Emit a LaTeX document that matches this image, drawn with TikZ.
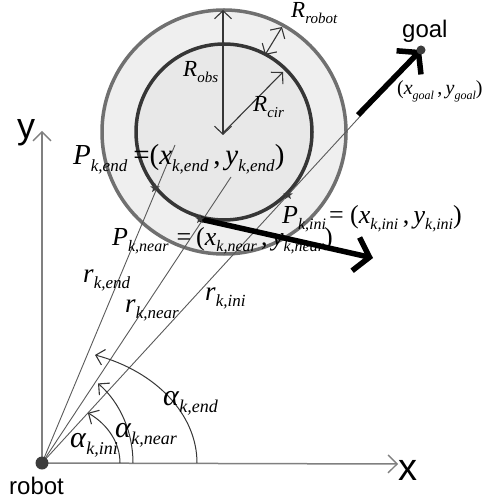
\documentclass[tikz,border=0pt]{standalone}
\usepackage{fontspec}
\setmainfont{Liberation Serif}
\newfontfamily\sansf{Liberation Sans}
\usetikzlibrary{arrows.meta,shapes.geometric}
\definecolor{outerfill}{HTML}{EFEFEF}
\definecolor{innerfill}{HTML}{E8E8E8}
\definecolor{outerline}{HTML}{707070}
\definecolor{innerline}{HTML}{363636}
\definecolor{thingray}{HTML}{5A5A5A}
\definecolor{axisgray}{HTML}{808080}
\definecolor{darkdot}{HTML}{3C3C3C}
\newcommand{\sy}[3][16]{\textit{#2}\raisebox{-0.24em}{\fontsize{#1}{#1}\selectfont\textit{#3}}}
\tikzset{
  rtip/.tip={Straight Barb[length=8pt,width=17pt,line width=1.1pt]},
  thinline/.style={draw=thingray, line width=0.9pt},
  axisline/.style={draw=axisgray, line width=1.5pt, -{Straight Barb[length=9pt,width=18pt,line width=1.4pt]}},
  radarrow/.style={draw=innerline, line width=1.1pt},
  anglearc/.style={draw=innerline, line width=1pt, -{Straight Barb[length=8pt,width=16pt,line width=1.1pt]}},
  thickarrow/.style={draw=black, line width=5.5pt, -{Straight Barb[length=14pt,width=34pt]}},
  starmark/.style={star, star points=5, star point ratio=2.4, minimum size=10pt, inner sep=0pt, fill=darkdot},
  mathlbl/.style={anchor=base west, inner sep=0pt, font=\fontsize{26}{26}\selectfont},
  sanslbl/.style={anchor=base west, inner sep=0pt, font=\sansf\fontsize{24}{24}\selectfont},
}
\begin{document}
\begin{tikzpicture}[x=1pt,y=-1pt]
\useasboundingbox (0,0) rectangle (499,502);
% key points
\coordinate (robot) at (42,463);
\coordinate (C) at (224,132);
\coordinate (goal) at (421,50);
\coordinate (Pend) at (155,188);
\coordinate (Pnear) at (200,219);
\coordinate (Pini) at (288,195);
\coordinate (endtop) at (175,145);
\coordinate (neartop) at (231,177);
\coordinate (gstart) at (358,115);
\coordinate (tanend) at (373,258);
\coordinate (xend) at (398,464);
\coordinate (yend) at (42,131);
\coordinate (obstop) at (223,10);
\coordinate (obsbot) at (223,135);
\coordinate (cirend) at (283,72);
\coordinate (robA) at (265,55);
\coordinate (robB) at (282,27);
% obstacle circles
\draw[draw=outerline, fill=outerfill, line width=3.5pt] (C) circle[radius=122];
\draw[draw=innerline, fill=innerfill, line width=3.5pt] (C) circle[radius=88];
% radii
\draw[radarrow, rtip-rtip] (obsbot) -- (obstop);
\draw[radarrow, -rtip] (C) -- (cirend);
\draw[radarrow, rtip-rtip] (robA) -- (robB);
% axes
\draw[axisline] (robot) -- (xend);
\draw[axisline] (robot) -- (yend);
% rays
\draw[thinline] (robot) -- (endtop);
\draw[thinline] (robot) -- (neartop);
\draw[thinline] (robot) -- (goal);
% angle arcs
\draw[anglearc] (197,463) arc[start angle=0, end angle=-70, x radius=155, y radius=115];
\draw[anglearc] (133,463) arc[start angle=0, end angle=-52, x radius=91, y radius=101];
\draw[anglearc] (120,463) arc[start angle=0, end angle=-54, x radius=78, y radius=62];
% thick arrows
\draw[thickarrow] (gstart) -- (goal);
\draw[thickarrow] (Pnear) -- (tanend);
% points
\node[starmark] (sEnd) at (Pend) {};
\node[starmark] (sNear) at (Pnear) {};
\node[starmark] (sIni) at (Pini) {};
\fill[darkdot] (robot) circle[radius=6.5];
\fill[darkdot] (goal) circle[radius=4.5];
% labels
\node[sanslbl, font=\sansf\fontsize{36}{36}\selectfont] (ylbl) at (17,139) {y};
\node[sanslbl, font=\sansf\fontsize{38}{38}\selectfont] (xlbl) at (398,480) {x};
\node[sanslbl] (robotlbl) at (9,494) {robot};
\node[sanslbl] (goallbl) at (402,38) {goal};
\node[mathlbl, font=\fontsize{23}{23}\selectfont] (Robs) at (183,77) {\sy[15]{R}{obs}};
\node[mathlbl, font=\fontsize{23}{23}\selectfont] (Rcir) at (253,112) {\sy[15]{R}{cir}};
\node[mathlbl, font=\fontsize{23}{23}\selectfont] (Rrob) at (291,18) {\sy[15]{R}{robot}};
\node[mathlbl, font=\fontsize{20}{20}\selectfont] (goalxy) at (397,95) {(\sy[12]{x}{goal}\,,\,\sy[12]{y}{goal})};
\node[mathlbl, font=\fontsize{29}{29}\selectfont] (Pendlbl) at (73,165) {\sy[17]{P}{k,end}\hspace{6pt}=(\sy[17]{x}{k,end}\,,\,\sy[17]{y}{k,end})};
\node[mathlbl] (Pnearlbl) at (112,245) {\sy{P}{k,near}\hspace{8pt}=\hspace{5pt}(\sy{x}{k,near}\,,\,\sy{y}{k,near})};
\node[mathlbl] (Pinilbl) at (282,223) {\sy{P}{k,ini}\hspace{3pt}= (\sy{x}{k,ini}\,,\,\sy{y}{k,ini})};
\node[mathlbl, font=\fontsize{27}{27}\selectfont] (rend) at (83,282) {\sy[17]{r}{k,end}};
\node[mathlbl, font=\fontsize{27}{27}\selectfont] (rnear) at (125,312) {\sy[17]{r}{k,near}};
\node[mathlbl, font=\fontsize{27}{27}\selectfont] (rini) at (205,300) {\sy[17]{r}{k,ini}};
\node[mathlbl, font=\fontsize{30}{30}\selectfont] (aend) at (163,405) {\sy[18]{α}{k,end}};
\node[mathlbl, font=\fontsize{30}{30}\selectfont] (anear) at (115,437) {\sy[18]{α}{k,near}};
\node[mathlbl, font=\fontsize{30}{30}\selectfont] (aini) at (70,447) {\sy[18]{α}{k,ini}};
\end{tikzpicture}
\end{document}
